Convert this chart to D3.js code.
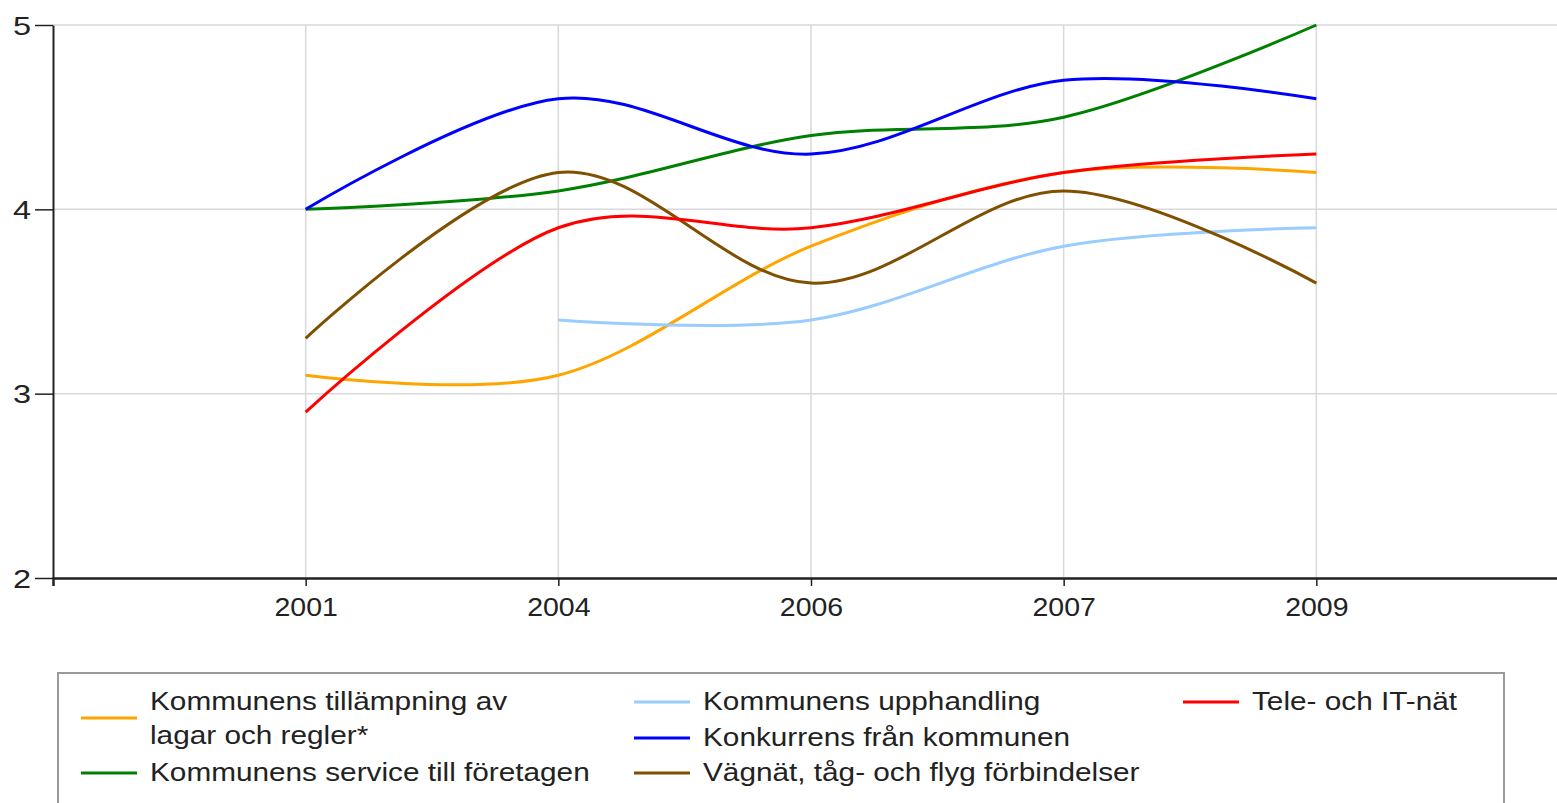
<!DOCTYPE html>
<html>
<head>
<meta charset="utf-8">
<title>Kommun chart</title>
<script src="https://cdn.jsdelivr.net/npm/d3@7"></script>
<style>
  body { margin: 0; background: #fff; }
  text { font-family: "Liberation Sans", Arial, Helvetica, sans-serif; fill: #222; }
</style>
</head>
<body>
<svg id="chart"></svg>
<script>
// data
var years = ['2001', '2004', '2006', '2007', '2009'];
var yTicks = [2, 3, 4, 5];

var tillampning = [3.1, 3.1, 3.8, 4.2, 4.2];
var service     = [4.0, 4.1, 4.4, 4.5, 5.0];
var upphandling = [null, 3.4, 3.4, 3.8, 3.9];
var konkurrens  = [4.0, 4.6, 4.3, 4.7, 4.6];
var vagnat      = [3.3, 4.2, 3.6, 4.1, 3.6];
var tele        = [2.9, 3.9, 3.9, 4.2, 4.3];

var series = [
  { name: ['Kommunens tillämpning av', 'lagar och regler*'], values: tillampning, color: '#ffa500', col: 0, row: 0 },
  { name: ['Kommunens service till företagen'], values: service, color: '#008000', col: 0, row: 2 },
  { name: ['Kommunens upphandling'], values: upphandling, color: '#99ccff', col: 1, row: 0 },
  { name: ['Konkurrens från kommunen'], values: konkurrens, color: '#0000ff', col: 1, row: 1 },
  { name: ['Vägnät, tåg- och flyg förbindelser'], values: vagnat, color: '#7f5000', col: 1, row: 2 },
  { name: ['Tele- och IT-nät'], values: tele, color: '#ff0000', col: 2, row: 0 }
];

var W = 1557, H = 803;
var plotLeft = 53, plotTop = 25, plotBottom = 578, plotRight = 1569;
var sxLegend = 1.19, sxTick = 1.14, sxY = 1.25; // reference text is drawn wide

var svg = d3.select('#chart').attr('width', W).attr('height', H);

var x = d3.scalePoint().domain(years).range([plotLeft, plotRight]).padding(1);
var y = d3.scaleLinear().domain([2, 5]).range([plotBottom, plotTop]);

// grid
svg.append('g').selectAll('line')
  .data(yTicks.filter(d => d > 2))
  .enter().append('line')
  .attr('x1', plotLeft).attr('x2', W)
  .attr('y1', d => y(d)).attr('y2', d => y(d))
  .attr('stroke', '#d9d9d9').attr('stroke-width', 1.5);

svg.append('g').selectAll('line')
  .data(years)
  .enter().append('line')
  .attr('x1', d => x(d)).attr('x2', d => x(d))
  .attr('y1', plotTop).attr('y2', plotBottom)
  .attr('stroke', '#d9d9d9').attr('stroke-width', 1.5);

// lines
var line = d3.line()
  .defined(d => d[1] != null)
  .x(d => x(d[0]))
  .y(d => y(d[1]))
  .curve(d3.curveCardinal.tension(0));

svg.append('g').selectAll('path')
  .data(series)
  .enter().append('path')
  .attr('d', s => line(years.map((yr, i) => [yr, s.values[i]])))
  .attr('fill', 'none')
  .attr('stroke', s => s.color)
  .attr('stroke-width', 3);

// axes
var yAxis = svg.append('g')
  .attr('transform', 'translate(' + plotLeft + ',0)')
  .call(d3.axisLeft(y).tickValues(yTicks).tickSize(18).tickSizeOuter(0).tickFormat(d3.format('d')));
yAxis.select('.domain').attr('stroke', '#222').attr('stroke-width', 2);
yAxis.selectAll('.tick line').attr('stroke', '#222').attr('stroke-width', 1.5);
yAxis.selectAll('.tick text')
  .attr('font-size', 26).attr('x', -22 / sxY).attr('dy', '0.35em')
  .attr('transform', 'scale(' + sxY + ',1)');

var xAxis = svg.append('g')
  .attr('transform', 'translate(0,' + plotBottom + ')')
  .call(d3.axisBottom(x).tickSize(8).tickSizeOuter(8).tickPadding(12));
xAxis.select('.domain').attr('stroke', '#222').attr('stroke-width', 2.5);
xAxis.selectAll('.tick line').attr('stroke', '#222').attr('stroke-width', 1.5);
xAxis.selectAll('.tick text')
  .attr('font-size', 25)
  .attr('transform', 'scale(' + sxTick + ',1)');
svg.selectAll('.tick text').attr('font-family', '"Liberation Sans", Arial, sans-serif').attr('fill', '#222');

// legend
var legend = svg.append('g');
legend.append('rect')
  .attr('x', 58).attr('y', 673)
  .attr('width', 1446).attr('height', 160)
  .attr('fill', '#fff').attr('stroke', '#999').attr('stroke-width', 2);

var colX = [81, 634, 1183];
var rowY = [701, 737, 772];

var item = legend.selectAll('g.item')
  .data(series)
  .enter().append('g')
  .attr('transform', s => 'translate(' + colX[s.col] + ',' + rowY[s.row] + ')');

item.append('line')
  .attr('x1', 0).attr('x2', 56)
  .attr('y1', s => s.name.length > 1 ? 17 : 1)
  .attr('y2', s => s.name.length > 1 ? 17 : 1)
  .attr('stroke', s => s.color).attr('stroke-width', 3);

item.each(function(s) {
  var t = d3.select(this).append('text')
    .attr('font-size', 25)
    .attr('transform', 'translate(69,0) scale(' + sxLegend + ',1)');
  s.name.forEach(function(n, i) {
    t.append('tspan').attr('x', 0).attr('y', i * 34 + 9).text(n);
  });
});
</script>
</body>
</html>
